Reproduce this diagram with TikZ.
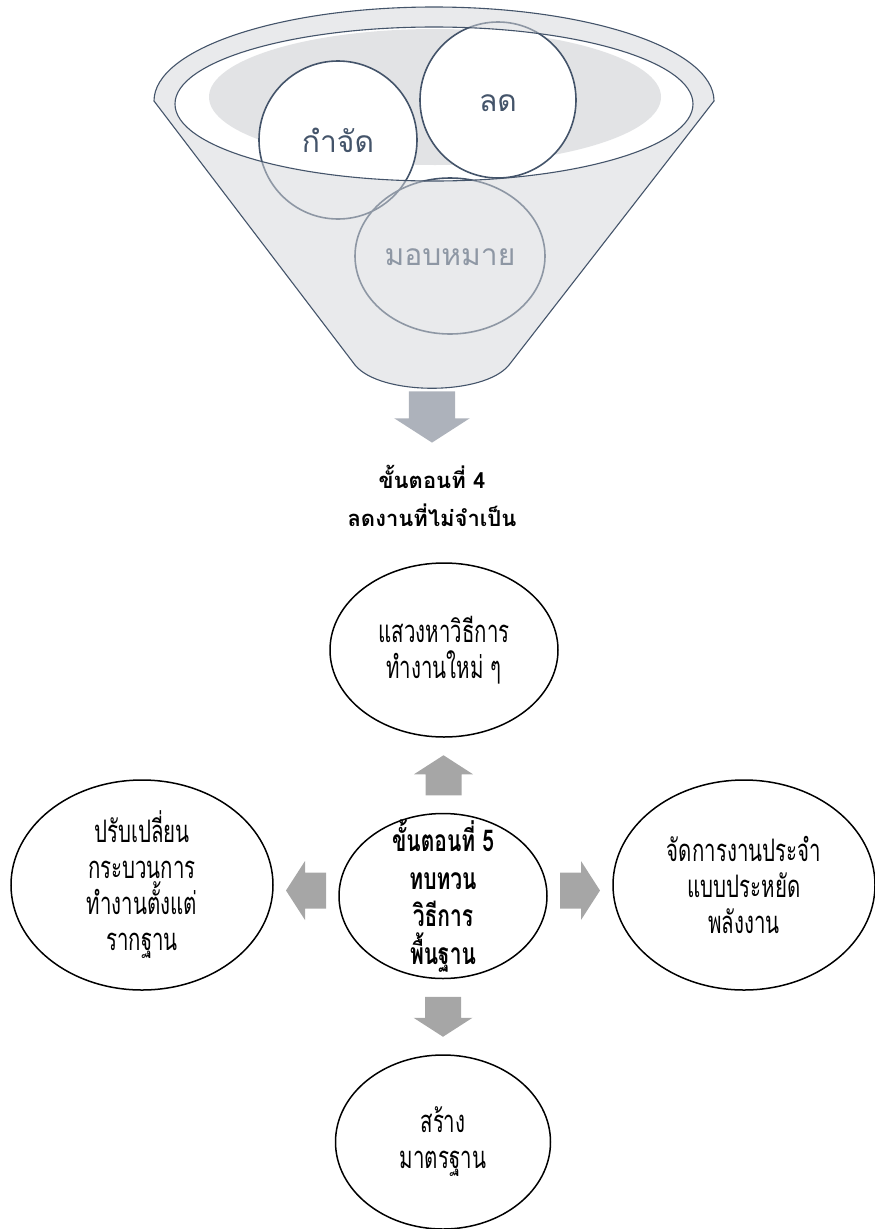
\documentclass[tikz,border=0pt]{standalone}
\usepackage{fontspec}
\usetikzlibrary{shapes.geometric,calc}

\newfontfamily\thaifont[Script=Thai]{Loma}
\newfontfamily\thainarrow[Script=Thai,FakeStretch=0.66]{Loma}
\newfontfamily\thainarrowbf[Script=Thai,FakeStretch=0.7]{Loma Bold}

\definecolor{slate}{HTML}{44546A}
\definecolor{funnelgrey}{HTML}{E9EAEC}
\definecolor{shadegrey}{HTML}{E2E3E5}
\definecolor{arrowgrey}{HTML}{A6A6A6}
\definecolor{spoutgrey}{HTML}{ADB2BB}

\tikzset{
  rim/.style={draw=slate, line width=1.1pt},
  ball/.style={draw=slate, line width=1.6pt},
  balltext/.style={font=\thaifont\fontsize{30}{36}\selectfont, text=slate},
  idea/.style={ellipse, draw=black, line width=1.5pt, inner sep=0pt},
  ideatext/.style={font=\thainarrow\fontsize{31}{36}\selectfont, align=center},
  steptext/.style={font=\thainarrowbf\fontsize{30}{37.5}\selectfont, align=center},
  captext/.style={font=\thaifont\bfseries\fontsize{22}{38}\selectfont, align=center},
  pics/fatarrow/.style={code={
    \fill[pic actions] (-20,-18) -- (1,-18) -- (1,-29.5) -- (20,0) -- (1,29.5) -- (1,18) -- (-20,18) -- cycle;
  }},
}

\begin{document}
\begin{tikzpicture}[x=1pt,y=-1pt]
\useasboundingbox (0,0) rectangle (875,1229);

% funnel
\coordinate (spout) at (432,417);
\pic[fill=spoutgrey, scale=1.28, rotate=-90] at (spout) {fatarrow};
\fill[funnelgrey] (154,101) -- (355,365) .. controls (380,396) and (484,396) .. (509,365) -- (714,101)
  arc[start angle=0, end angle=-180, x radius=280, y radius=94] -- cycle;
\begin{scope}
  \clip (434,104) ellipse [x radius=259, y radius=77];
  \fill[white] (434,104) ellipse [x radius=259, y radius=77];
  \fill[shadegrey] (435,97) ellipse [x radius=226, y radius=68];
  \fill[white] (338,140) circle [radius=79];
  \fill[white] (498,100) circle [radius=78];
\end{scope}
\draw[ball] (338,140) circle [radius=79];
\draw[ball] (498,100) circle [radius=78];
\draw[ball] (450,256) ellipse [x radius=95, y radius=78];
\node[balltext] (delegate) at (450,257) {มอบหมาย};
% front of the funnel
\fill[funnelgrey, opacity=0.45, even odd rule] (154,101) -- (355,365) .. controls (380,396) and (484,396) .. (509,365) -- (714,101)
  arc[start angle=0, end angle=-180, x radius=280, y radius=94] -- cycle
  (434,104) ellipse [x radius=259, y radius=77];
\draw[rim] (154,101) -- (355,365) .. controls (380,396) and (484,396) .. (509,365) -- (714,101)
  arc[start angle=0, end angle=-180, x radius=280, y radius=94] -- cycle;
\draw[rim] (434,104) ellipse [x radius=259, y radius=77];
\node[balltext] (remove) at (338,140) {กำจัด};
\node[balltext] (reduce) at (498,103) {ลด};

\node[captext] (step4) at (432,496) {ขั้นตอนที่ 4\\ลดงานที่ไม่จำเป็น};

% step 5
\node[idea, minimum width=228, minimum height=174] (seek) at (444,650) {};
\node[idea, minimum width=208, minimum height=165] (step5) at (443,896) {};
\node[idea, minimum width=262, minimum height=210] (rebuild) at (142,885) {};
\node[idea, minimum width=262, minimum height=210] (routine) at (744,885) {};
\node[idea, minimum width=215, minimum height=174] (standard) at (443,1142) {};

\node[ideatext] (seek-t) at (seek) {แสวงหาวิธีการ\\ทำงานใหม่ ๆ};
\node[steptext] (step5-t) at (step5) {ขั้นตอนที่ 5\\ทบทวน\\วิธีการ\\พื้นฐาน};
\node[ideatext] (rebuild-t) at (rebuild) {ปรับเปลี่ยน\\กระบวนการ\\ทำงานตั้งแต่\\รากฐาน};
\node[ideatext] (routine-t) at (routine) {จัดการงานประจำ\\แบบประหยัด\\พลังงาน};
\node[ideatext] (standard-t) at (standard) {สร้าง\\มาตรฐาน};

\pic[fill=arrowgrey, rotate=90] at ($(seek.south)!0.5!(step5.north)$) {fatarrow};
\pic[fill=arrowgrey, rotate=180] at ($(rebuild.east)!0.5!(step5.west)$) {fatarrow};
\pic[fill=arrowgrey] at ($(step5.east)!0.5!(routine.west)$) {fatarrow};
\pic[fill=arrowgrey, rotate=-90] at ($(step5.south)!0.5!(standard.north)$) {fatarrow};
\end{tikzpicture}
\end{document}
